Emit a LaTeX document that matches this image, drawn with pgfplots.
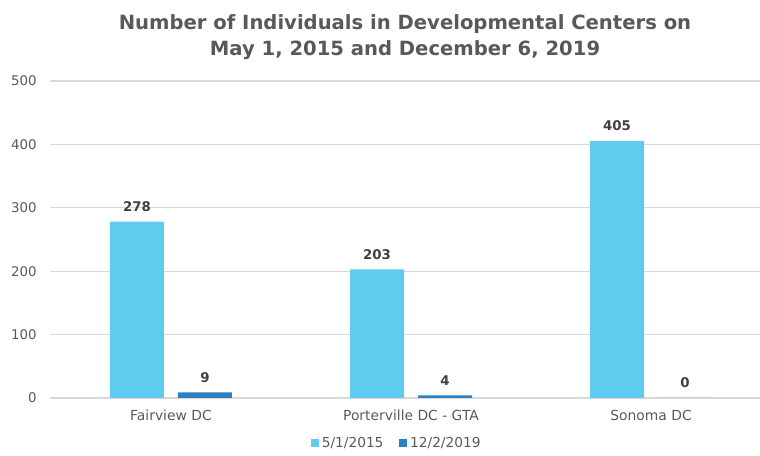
\documentclass[border=0pt]{standalone}
\usepackage{pgfplots}
\pgfplotsset{compat=1.18}
\usepackage{fontspec}
\setmainfont{DejaVu Sans}
\definecolor{lightb}{RGB}{95,203,239}
\definecolor{darkb}{RGB}{46,128,193}
\definecolor{txt}{RGB}{89,89,89}
\definecolor{lbl}{RGB}{64,64,64}
\definecolor{gridc}{RGB}{217,217,217}
\begin{document}
\begin{tikzpicture}
\begin{axis}[
  scale only axis, width=532.5pt, height=237.75pt,
  ybar,
  xmin=-0.504, xmax=2.454, ymin=0, ymax=500,
  xtick={0,1,2},
  xticklabels={Fairview DC, Porterville DC - GTA, Sonoma DC},
  ytick={0,100,200,300,400,500},
  axis line style={draw=none},
  major tick length=0pt,
  ymajorgrids, grid style={gridc, line width=1pt},
  yticklabel style={font=\fontsize{10}{12}\selectfont, text=txt, xshift=-6.5pt},
  xticklabel style={font=\fontsize{10.4}{12}\selectfont, text=txt, yshift=-5.5pt},
  /pgf/number format/assume math mode=true,
  clip=false,
  nodes near coords,
  every node near coord/.append style={font=\bfseries\fontsize{10}{12}\selectfont, text=lbl, yshift=4pt},
  legend style={at={(0.489,-0.142)}, anchor=center, draw=none, legend columns=2,
    font=\fontsize{10.3}{12}\selectfont, text=txt,
    /tikz/every even column/.append style={column sep=10pt}},
  legend image code/.code={\fill[#1] (0pt,-3pt) rectangle (6pt,3pt);},
]
\addplot[fill=lightb, draw=none, bar width=40.5pt, bar shift=-25.5pt] coordinates {(0,278) (1,203) (2,405)};
\addplot[fill=darkb, draw=none, bar width=40.5pt, bar shift=25.5pt] coordinates {(0,9) (1,4) (2,0)};
\legend{5/1/2015, 12/2/2019}
\coordinate (bl) at (rel axis cs:0,0);
\coordinate (tr) at (rel axis cs:1,1);
\coordinate (tc) at (rel axis cs:0.5,1);
\end{axis}
\node[align=center, text=txt, font=\bfseries\fontsize{14.7}{19.5}\selectfont] at ([yshift=33pt]tc) {Number of Individuals in Developmental Centers on\\May 1, 2015 and December 6, 2019};
\pgfresetboundingbox
\path[use as bounding box] ([xshift=-37.5pt,yshift=-43.5pt]bl) rectangle ([yshift=60.75pt]tr);
\end{tikzpicture}
\end{document}
